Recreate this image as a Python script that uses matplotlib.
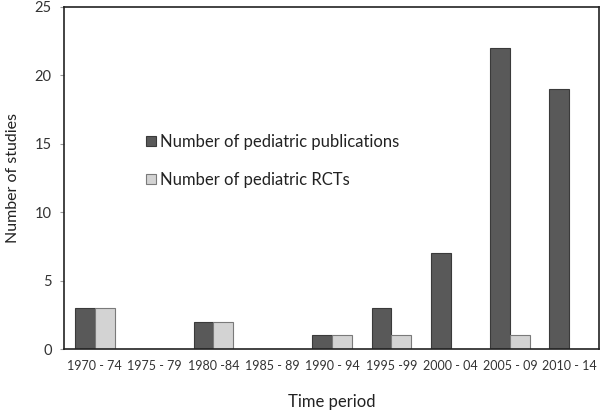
import matplotlib
matplotlib.use("Agg")
import matplotlib.pyplot as plt
import numpy as np

categories = ["1970 - 74", "1975 - 79", "1980 -84", "1985 - 89", "1990 - 94",
              "1995 -99", "2000 - 04", "2005 - 09", "2010 - 14"]
publications = [3, 0, 2, 0, 1, 3, 7, 22, 19]
rcts = [3, 0, 2, 0, 1, 1, 0, 1, 0]

plt.rcParams['font.family'] = ['Lato', 'DejaVu Sans']

fig = plt.figure(figsize=(6.02, 4.19), dpi=100)
ax = fig.add_axes([64/602, 1 - 349/419, (599-64)/602, (349-7)/419])

x = np.arange(len(categories))
w = 0.335
ax.bar(x - w/2, publications, w, color='#595959', edgecolor='#3a3a3a', linewidth=0.8,
       label='Number of pediatric publications')
ax.bar(x + w/2, rcts, w, color='#d3d3d3', edgecolor='#7a7a7a', linewidth=0.8,
       label='Number of pediatric RCTs')

ax.set_xlim(-0.52, 8.5)
ax.set_ylim(0, 25)
ax.set_yticks([0, 5, 10, 15, 20, 25])
ax.set_xticks(x)
ax.set_xticklabels(categories, fontsize=9, color='#333333')
ax.tick_params(axis='x', length=0, pad=8)
ax.tick_params(axis='y', length=3, color='#999999', labelsize=10.5, labelcolor='#333333', pad=6)
for s in ax.spines.values():
    s.set_color('#222222')
    s.set_linewidth(1.2)

ax.set_xlabel('Time period', fontsize=12, color='#222222', labelpad=16)
ax.set_ylabel('Number of studies', fontsize=11.5, color='#222222', labelpad=10)

leg = ax.legend(loc='upper left', bbox_to_anchor=(138/602, 1 - 126/419),
                bbox_transform=fig.transFigure, frameon=False, fontsize=12,
                handlelength=0.55, handleheight=0.55, handletextpad=0.25,
                labelspacing=1.3, borderpad=0)
for t in leg.get_texts():
    t.set_color('#222222')

fig.savefig('out.png', dpi=100)
